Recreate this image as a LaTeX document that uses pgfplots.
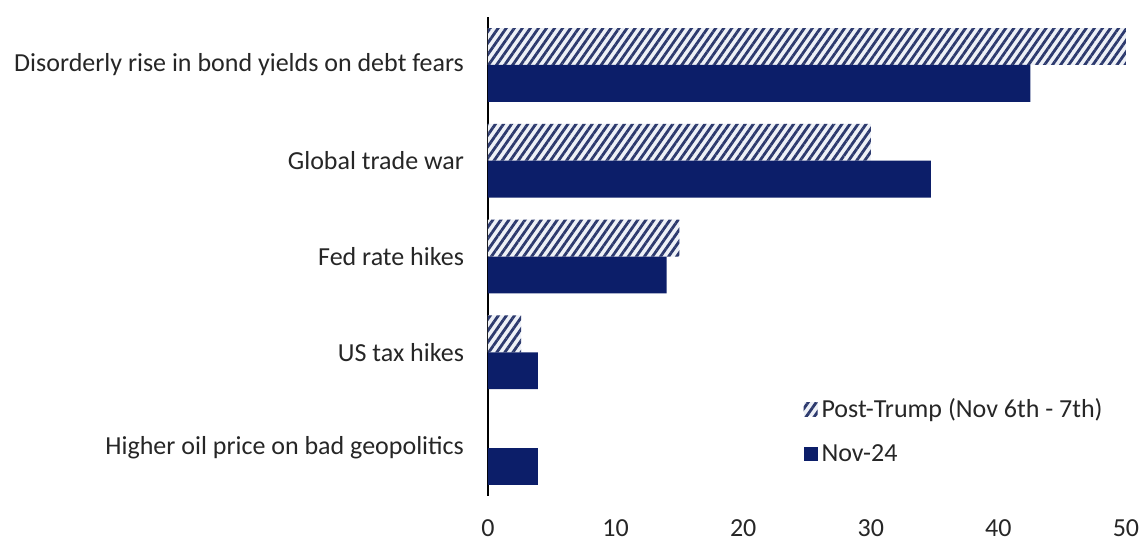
\documentclass[border=0pt]{standalone}
\usepackage{fontspec}
\setmainfont{Carlito}
\usepackage{pgfplots}
\pgfplotsset{compat=1.18}
\usetikzlibrary{patterns.meta}
\definecolor{navy}{RGB}{12,30,105}
\definecolor{hatchc}{RGB}{45,58,110}
\definecolor{hatchbg}{RGB}{238,241,247}
\begin{document}
\begin{tikzpicture}
\begin{axis}[
 name=ax,
 scale only axis, width=319pt, height=239.5pt,
 xbar, bar width=0.385,
 y dir=reverse,
 xmin=0, xmax=50, ymin=-0.5, ymax=4.5,
 ytick={0,1,2,3,4},
 yticklabels={Disorderly rise in bond yields on debt fears, Global trade war, Fed rate hikes, US tax hikes, Higher oil price on bad geopolitics},
 xtick={0,10,20,30,40,50},
 major tick length=0pt,
 axis x line*=bottom, axis y line*=left,
 x axis line style={draw=none},
 y axis line style={-, black, line width=1pt},
 tick label style={font=\fontsize{13}{15}\selectfont, text=black!85},
 yticklabel style={xshift=-8.5pt},
 xticklabel style={yshift=-8.5pt},
 /pgf/number format/assume math mode=true,
 legend style={at={(0.494,0.213)}, anchor=north west, draw=none, fill=none,
   font=\fontsize{13}{15}\selectfont, text=black!85, row sep=8pt, inner sep=0pt},
 legend cell align=left,
 legend image code/.code={\draw[#1,draw=none] (0pt,-3.5pt) rectangle (7pt,3.5pt);},
]
\addplot[draw=none, fill=hatchbg, bar shift=-0.1925,
  postaction={pattern={Lines[angle=55, distance=3.3pt, line width=1.4pt]}, pattern color=hatchc}]
  coordinates {(50,0) (30,1) (15,2) (2.6,3)};
\addlegendentry{Post-Trump (Nov 6th - 7th)}
\addplot[draw=none, fill=navy, bar shift=0.1925]
  coordinates {(42.5,0) (34.7,1) (14,2) (3.9,3) (3.9,4)};
\addlegendentry{Nov-24}
\end{axis}
\pgfresetboundingbox
\path ([shift={(-244pt,-24pt)}]ax.south west) rectangle ([shift={(329pt,248pt)}]ax.south west);
\end{tikzpicture}
\end{document}
